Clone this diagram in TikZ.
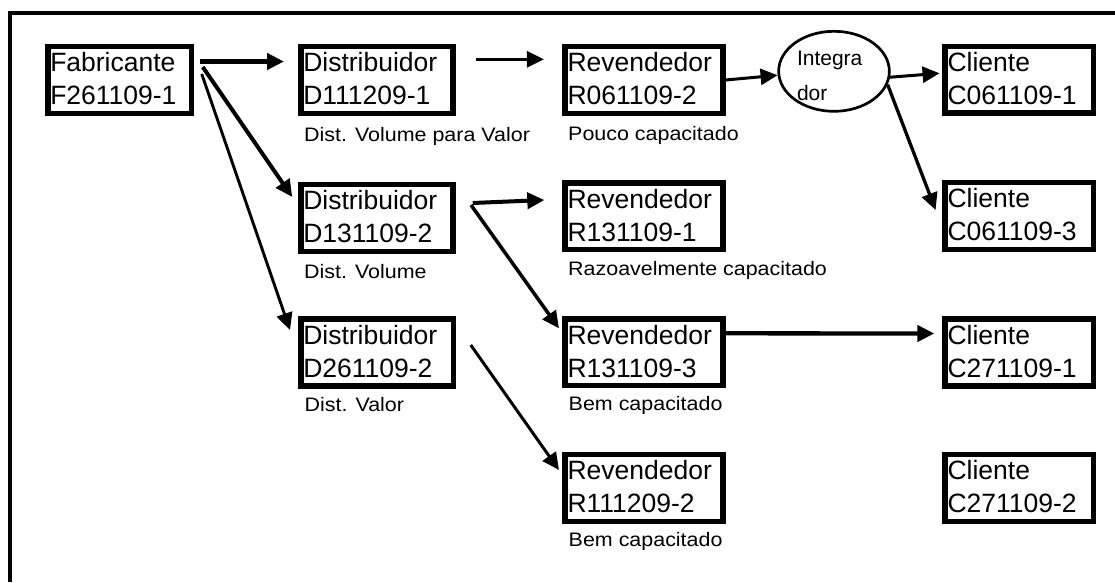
\documentclass[tikz,border=0pt]{standalone}
\usepackage{fontspec}
\setmainfont{Liberation Sans}
\usepackage{graphicx}
\usetikzlibrary{arrows.meta,shapes.geometric,calc}
\newcommand{\sx}[1]{\scalebox{1.1}[1]{#1}}
\tikzset{
  box/.style={draw, line width=5.5pt, rectangle, minimum height=66.8pt,
    inner xsep=2.5pt, inner ysep=0pt, align=left, text height=20pt,
    text depth=36.6pt, font=\fontsize{26.5}{33}\selectfont},
  lbl/.style={anchor=base west, inner sep=0pt, font=\fontsize{19.5}{22}\selectfont},
  arr/.style={-{Triangle[length=17pt,width=16pt]}, line width=#1},
  arr/.default=4pt,
  frame/.style={line width=4.5pt}
}
\begin{document}
\begin{tikzpicture}[x=1pt,y=-1pt]
\useasboundingbox (0,0) rectangle (1115,582);
\draw[frame] (10,582) -- (10,13) -- (1115,13);

% boxes
\node[box, text width=138.5pt] (fab) at (119.5,80) {Fabricante\\F261109-1};
\node[box, text width=147pt] (d1) at (376.75,80) {Distribuidor\\D111209-1};
\node[box, text width=147pt] (d2) at (376.75,218) {Distribuidor\\D131109-2};
\node[box, text width=147.5pt] (d3) at (377,352.5) {Distribuidor\\D261109-2};
\node[box, text width=152.9pt] (r1) at (644,80) {Revendedor\\R061109-2};
\node[box, text width=152.9pt] (r2) at (644,216.3) {Revendedor\\R131109-1};
\node[box, text width=152.9pt] (r3) at (644,352.3) {Revendedor\\R131109-3};
\node[box, text width=152.9pt] (r4) at (644,488) {Revendedor\\R111209-2};
\node[box, text width=143.2pt] (c1) at (1019.15,79.7) {Cliente\\C061109-1};
\node[box, text width=143.2pt] (c2) at (1019.15,215.9) {Cliente\\C061109-3};
\node[box, text width=143.2pt] (c3) at (1019.15,352.5) {Cliente\\C271109-1};
\node[box, text width=143.2pt] (c4) at (1019.15,488) {Cliente\\C271109-2};

\node[ellipse, draw, line width=2.7pt, minimum width=110.7pt, minimum height=80pt,
  inner sep=0pt, align=left, text width=74pt, text height=15pt, text depth=27.6pt,
  font=\fontsize{21}{35}\selectfont] (integ) at (834,71.3) {Integra\\dor};

% labels
\node[lbl] (l1) at (304,141.5) {\sx{Dist. Volume para Valor}};
\node[lbl] (l2) at (304,278) {\sx{Dist. Volume}};
\node[lbl] (l3) at (304.5,411) {\sx{Dist. Valor}};
\node[lbl] (l4) at (568,140) {\sx{Pouco capacitado}};
\node[lbl] (l5) at (568,275.5) {\sx{Razoavelmente capacitado}};
\node[lbl] (l6) at (568.5,410) {\sx{Bem capacitado}};
\node[lbl] (l7) at (568.5,546.7) {\sx{Bem capacitado}};

% connectors
\draw[arr=4.3pt] ($(fab.east)+(6,-18.5)$) -- ($(d1.west)+(-14,-18.5)$);
\draw[arr=4pt] ($(fab.east)+(8.75,-13)$) -- ($(d2.west)+(-5.75,-21)$);
\draw[arr=2.9pt] ($(fab.east)+(7.75,-6)$) -- ($(d3.west)+(-8,-22.5)$);
\draw[arr=2.6pt] ($(d1.east)+(20.25,-20.7)$) -- ($(r1.west)+(-18.35,-20.7)$);
\draw[arr=4pt] ($(d2.east)+(17.25,-15)$) -- ($(r2.west)+(-18,-16.3)$);
\draw[arr=3.5pt] ($(d2.east)+(15.5,-13)$) -- ($(r3.west)+(-3.35,-24)$);
\draw[arr=3pt] ($(d3.east)+(14.75,-7.5)$) -- ($(r4.west)+(-3.35,-18)$);
\draw[arr=3pt] (r1.east) -- (integ.184);
\draw[arr=3pt] (integ.354) -- ($(c1.west)+(-2.75,-6.4)$);
\draw[arr=3.3pt] (integ.-14) -- ($(c2.west)+(-6.7,-5.9)$);
\draw[arr=4.3pt] ($(r3.east)+(0,-19)$) -- ($(c3.west)+(-8,-19)$);
\end{tikzpicture}
\end{document}
